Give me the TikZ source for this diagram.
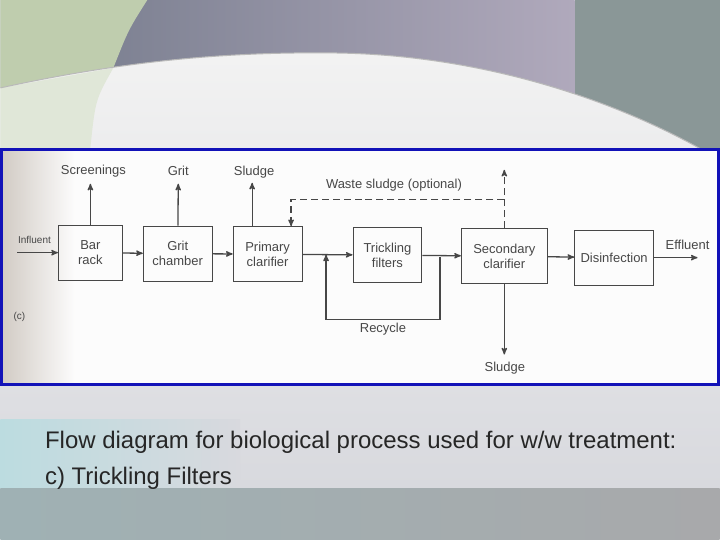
\documentclass[tikz,border=0pt]{standalone}
\usepackage{fontspec}
\setmainfont{Liberation Sans}
\usetikzlibrary{arrows}

\definecolor{ink}{HTML}{474747}
\definecolor{frameblue}{HTML}{1212B8}
\definecolor{slidegray}{HTML}{D8D9DE}
\definecolor{topblue}{HTML}{7D8192}
\definecolor{topwarm}{HTML}{988F88}
\definecolor{toplilac}{HTML}{B0A9BC}
\definecolor{topright}{HTML}{8A9797}
\definecolor{topgreen}{HTML}{BFCDAE}
\definecolor{palegreen}{HTML}{E0E7D8}
\definecolor{palecyan}{HTML}{BCDCE0}
\definecolor{bandteal}{HTML}{9FB1B4}
\definecolor{bandgray}{HTML}{A8A9AB}

\begin{document}
\begin{tikzpicture}[x=1pt,y=-1pt,->,>=stealth',line width=1.3pt,draw=ink,
                    font=\fontsize{13}{15}\selectfont]
  \tikzstyle{box}=[draw=ink,line width=1pt,text=ink,align=center,inner sep=0pt,minimum height=55pt]
  \tikzstyle{lbl}=[text=ink,inner sep=1pt]
  \tikzstyle{wasteline}=[dash pattern=on 7pt off 4pt]
  \tikzstyle{caption}=[text=black!85,font=\fontsize{24}{28}\selectfont,anchor=west,inner sep=0pt]

  % slide background
  \fill[slidegray] (0,0) rectangle (720,540);
  \shade[left color=topblue, middle color=topwarm, right color=toplilac]
    (100,0) rectangle (575,150);
  \fill[topright] (575,0) rectangle (720,150);
  \fill[topgreen] (0,0) -- (147,0) .. controls (128,30) .. (113,68) -- (0,88) -- cycle;
  \shade[top color=gray!10, bottom color=slidegray]
    (0,88) .. controls (120,62) and (220,52) .. (330,53)
           .. controls (480,54) and (620,100) .. (720,160) -- (720,489) -- (0,489) -- cycle;
  \fill[palegreen] (0,88) -- (113,68) .. controls (95,100) .. (90,148) -- (0,148) -- cycle;
  \draw[-, gray!55, line width=1pt] (0,88) .. controls (120,62) and (220,52) .. (330,53)
           .. controls (480,54) and (620,100) .. (720,160);
  \shade[left color=palecyan, right color=slidegray] (0,420) rectangle (240,489);
  \shade[left color=bandteal, right color=bandgray] (0,489) rectangle (720,540);

  % scanned figure
  \fill[gray!2] (0,148) rectangle (720,387);
  \shade[left color=brown!25!gray!40, right color=gray!2] (3,150) rectangle (75,385);
  \draw[-, frameblue, line width=3pt] (1.5,150) rectangle (718.5,385.5);

  \node[box, minimum width=64pt] (bar)   at (90,253)    {Bar\\rack};
  \node[box, minimum width=69pt] (grit)  at (177.5,254) {Grit\\chamber};
  \node[box, minimum width=69pt] (prim)  at (267.5,254.5) {Primary\\clarifier};
  \node[box, minimum width=69pt] (trick) at (387.5,255.5) {Trickling\\filters};
  \node[box, minimum width=86pt] (sec)   at (504.5,256.5) {Secondary\\clarifier};
  \node[box, minimum width=79pt] (dis)   at (614.5,258) {Disinfection};

  \coordinate (inf)   at (17,253);
  \coordinate (eff)   at (698,258);
  \coordinate (scr)   at (90,184);
  \coordinate (grt)   at (178,184);
  \coordinate (sl1)   at (252,183);
  \coordinate (waste) at (504.5,170);
  \coordinate (wbend) at (504.5,200);
  \coordinate (sl2)   at (504.5,355);
  \coordinate (rec1)  at (440,257);
  \coordinate (rec2)  at (326,255);

  \node[lbl, font=\fontsize{10}{12}\selectfont, anchor=west] at (16,240) {Influent};
  \node[lbl] at (93,171) {Screenings};
  \node[lbl] at (178,171) {Grit};
  \node[lbl] at (254,172) {Sludge};
  \node[lbl] at (394,185) {Waste sludge (optional)};
  \node[lbl] at (688,245) {Effluent};
  \node[lbl] at (383,330) {Recycle};
  \node[lbl] at (505,369) {Sludge};
  \node[lbl, font=\fontsize{10}{12}\selectfont] at (19,317) {(c)};

  \path (inf)  edge (bar)
        (bar)  edge (grit)
        (grit) edge (prim)
        (prim) edge (trick)
        (trick) edge (sec)
        (sec)  edge (dis)
        (dis)  edge (eff)
        (bar)  edge (scr)
        (grit) edge (grt)
        (prim.north -| sl1) edge (sl1)
        (sec)  edge (sl2);
  \draw (rec1) -- ++(0,63) -| (rec2);
  \draw[wasteline] (sec) -- (waste);
  \draw[wasteline] (wbend) -| ([xshift=23.5pt]prim.north);

  % caption
  \node[caption] (cap1) at (44,443) {Flow diagram for biological process used for w/w treatment:};
  \node[caption] (cap2) at (44,479) {c) Trickling Filters};
\end{tikzpicture}
\end{document}
